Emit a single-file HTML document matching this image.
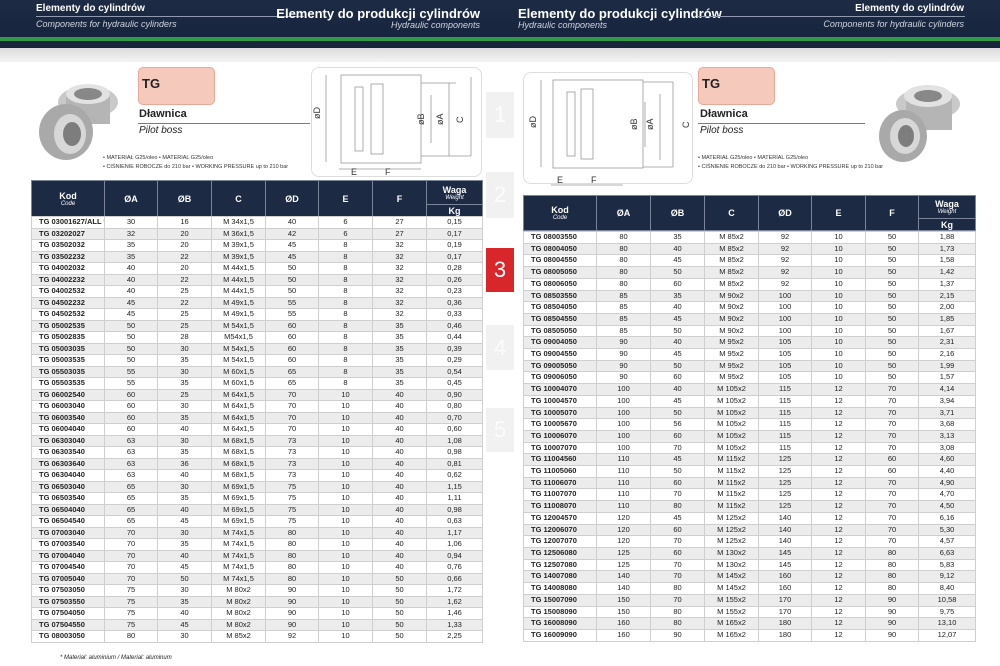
<!DOCTYPE html>
<html><head><meta charset="utf-8">
<style>
*{margin:0;padding:0;box-sizing:border-box}
body{width:1000px;height:666px;overflow:hidden;background:#fff;font-family:"Liberation Sans Narrow","Liberation Sans",sans-serif;position:relative;color:#222}
.hdr{position:absolute;left:0;top:0;width:1000px;height:48px;background:linear-gradient(#1d2b45,#15223a)}
.grn{position:absolute;left:0;top:37px;width:1000px;height:4px;background:#2f9a47}
.grn2{position:absolute;left:0;top:41px;width:1000px;height:6px;background:#18253d}
.band{position:absolute;left:0;top:48px;width:1000px;height:14px;background:linear-gradient(#dcdcdc,#f4f4f4)}
.t{position:absolute;color:#fff;white-space:nowrap}
.b{font-weight:bold}
.i{font-style:italic}
.tab{position:absolute;left:486px;width:28px;background:#f1f1f1;color:#fcfcfc;font-size:22px;text-align:center}
table{position:absolute;border-collapse:collapse;font-size:7.5px;table-layout:fixed}
td,th{border:1px solid #cfcfcf;text-align:center;padding:0;overflow:hidden;white-space:nowrap}
th{background:#1c2a44;color:#fff;border:1px solid #7a8599;font-size:9px}
th small{display:block;font-size:6px;font-style:italic;font-weight:normal}
td:first-child{text-align:left;font-weight:bold;padding-left:7px}
tr.g td{background:#ececec}
.box{position:absolute;border:1px solid #ddd;border-radius:8px;background:#fff}
.pink{position:absolute;background:#f6c9bd;border:1px solid #e8a896;border-radius:5px;font-weight:bold;font-size:13px;padding:8px 0 0 3px}
.line{position:absolute;height:1px;background:#e05050}
.sm{position:absolute;font-size:5.5px;color:#333;line-height:9px;white-space:nowrap}
</style></head><body>
<div class="hdr"></div><div class="grn"></div><div class="grn2"></div><div class="band"></div>
<div class="t b" style="left:36px;top:3px;font-size:10px">Elementy do cylindrów</div>
<div style="position:absolute;left:36px;top:16px;width:268px;height:1px;background:#8f9ab0"></div>
<div class="t i" style="left:36px;top:19px;font-size:9px;color:#cfd5e0">Components for hydraulic cylinders</div>
<div class="t b" style="right:520px;top:6px;font-size:13px">Elementy do produkcji cylindrów</div>
<div class="t i" style="right:520px;top:20px;font-size:9px;color:#cfd5e0">Hydraulic components</div>
<div class="t b" style="left:518px;top:6px;font-size:13px">Elementy do produkcji cylindrów</div>
<div class="t i" style="left:518px;top:20px;font-size:9px;color:#cfd5e0">Hydraulic components</div>
<div style="position:absolute;left:697px;top:16px;width:268px;height:1px;background:#8f9ab0"></div>
<div class="t b" style="right:36px;top:3px;font-size:10px">Elementy do cylindrów</div>
<div class="t i" style="right:36px;top:19px;font-size:9px;color:#cfd5e0">Components for hydraulic cylinders</div>

<div class="tab" style="top:92px;height:46px;line-height:46px">1</div>
<div class="tab" style="top:172px;height:46px;line-height:46px">2</div>
<div class="tab" style="top:248px;height:44px;line-height:44px;background:#d8262b;color:#fff">3</div>
<div class="tab" style="top:325px;height:45px;line-height:45px">4</div>
<div class="tab" style="top:408px;height:44px;line-height:44px">5</div>

<!-- left product -->
<svg style="position:absolute;left:36px;top:74px" width="86" height="90"><ellipse cx="52" cy="28" rx="30" ry="16" fill="#c9c9c9"/><rect x="30" y="20" width="44" height="30" fill="#b5b5b5"/><ellipse cx="52" cy="20" rx="22" ry="10" fill="#e2e2e2"/><ellipse cx="52" cy="20" rx="14" ry="6" fill="#888"/><ellipse cx="30" cy="58" rx="27" ry="28" fill="#a9a9a9"/><ellipse cx="34" cy="60" rx="16" ry="20" fill="#d7d7d7"/><ellipse cx="36" cy="60" rx="9" ry="12" fill="#7d7d7d"/></svg>
<div class="pink" style="left:138px;top:67px;width:77px;height:38px">TG</div>
<div style="position:absolute;left:139px;top:108px;font-size:11px;font-weight:bold">Dławnica</div>
<div class="line" style="left:138px;top:123px;width:172px"></div>
<div style="position:absolute;left:139px;top:125px;font-size:10px;font-style:italic">Pilot boss</div>
<div class="sm" style="left:103px;top:154px">• MATERIAŁ G25/oleo • MATERIAL G25/oleo<br>• CIŚNIENIE ROBOCZE do 210 bar • WORKING PRESSURE up to 210 bar</div>
<div class="box" style="left:311px;top:67px;width:171px;height:110px"></div>
<svg style="position:absolute;left:311px;top:67px" width="171" height="112" font-family="Liberation Sans" font-size="9" fill="#333"><g stroke="#999" fill="none" stroke-width="0.8"><rect x="30" y="8" width="80" height="88"/><rect x="44" y="20" width="8" height="64"/><rect x="60" y="17" width="12" height="70"/><line x1="110" y1="16" x2="145" y2="16"/><line x1="110" y1="89" x2="160" y2="89"/><line x1="138" y1="16" x2="138" y2="89"/><line x1="160" y1="10" x2="160" y2="89"/><line x1="120" y1="28" x2="120" y2="76"/><line x1="15" y1="8" x2="15" y2="95"/><line x1="28" y1="102" x2="110" y2="102"/></g><text x="9" y="52" transform="rotate(-90 9 52)">øD</text><text x="113" y="58" transform="rotate(-90 113 58)">øB</text><text x="132" y="58" transform="rotate(-90 132 58)">øA</text><text x="152" y="56" transform="rotate(-90 152 56)">C</text><text x="40" y="108">E</text><text x="74" y="108">F</text></svg>

<!-- right -->
<div class="box" style="left:523px;top:72px;width:170px;height:112px"></div>
<svg style="position:absolute;left:523px;top:72px" width="171" height="120" font-family="Liberation Sans" font-size="9" fill="#333"><g stroke="#999" fill="none" stroke-width="0.8"><rect x="30" y="8" width="90" height="88"/><rect x="44" y="20" width="8" height="64"/><rect x="58" y="17" width="12" height="70"/><line x1="120" y1="10" x2="150" y2="10"/><line x1="120" y1="95" x2="150" y2="95"/><line x1="150" y1="10" x2="150" y2="95"/><line x1="137" y1="22" x2="137" y2="88"/><line x1="122" y1="30" x2="122" y2="75"/><line x1="18" y1="8" x2="18" y2="95"/><line x1="28" y1="113" x2="100" y2="113"/></g><text x="13" y="56" transform="rotate(-90 13 56)">øD</text><text x="114" y="58" transform="rotate(-90 114 58)">øB</text><text x="130" y="58" transform="rotate(-90 130 58)">øA</text><text x="166" y="56" transform="rotate(-90 166 56)">C</text><text x="34" y="111">E</text><text x="68" y="111">F</text></svg>
<div class="pink" style="left:698px;top:67px;width:77px;height:38px">TG</div>
<div style="position:absolute;left:700px;top:108px;font-size:11px;font-weight:bold">Dławnica</div>
<div class="line" style="left:698px;top:123px;width:167px"></div>
<div style="position:absolute;left:700px;top:125px;font-size:10px;font-style:italic">Pilot boss</div>
<div class="sm" style="left:698px;top:154px">• MATERIAŁ G25/oleo • MATERIAL G25/oleo<br>• CIŚNIENIE ROBOCZE do 210 bar • WORKING PRESSURE up to 210 bar</div>
<svg style="position:absolute;left:878px;top:76px" width="90" height="90"><ellipse cx="50" cy="28" rx="32" ry="16" fill="#c9c9c9"/><rect x="28" y="20" width="46" height="34" fill="#b5b5b5"/><ellipse cx="50" cy="20" rx="24" ry="11" fill="#e2e2e2"/><ellipse cx="50" cy="20" rx="14" ry="6" fill="#888"/><ellipse cx="25" cy="60" rx="24" ry="26" fill="#a9a9a9"/><ellipse cx="27" cy="60" rx="15" ry="18" fill="#d7d7d7"/><ellipse cx="28" cy="60" rx="8" ry="11" fill="#7d7d7d"/></svg>

<table style="left:31px;top:180px;width:451px">
<colgroup><col style="width:73px"><col style="width:53px"><col style="width:54px"><col style="width:54px"><col style="width:53px"><col style="width:54px"><col style="width:54px"><col style="width:56px"></colgroup>
<tr style="height:24px"><th rowspan="2">Kod<small>Code</small></th><th rowspan="2">ØA</th><th rowspan="2">ØB</th><th rowspan="2">C</th><th rowspan="2">ØD</th><th rowspan="2">E</th><th rowspan="2">F</th><th>Waga<small>Weight</small></th></tr>
<tr style="height:12px"><th>Kg</th></tr>
</table>
<table style="left:31px;top:216px;width:451px">
<colgroup><col style="width:73px"><col style="width:53px"><col style="width:54px"><col style="width:54px"><col style="width:53px"><col style="width:54px"><col style="width:54px"><col style="width:56px"></colgroup>
<tbody style="line-height:10.5px">
<tr><td>TG 03001627/ALL *</td><td>30</td><td>16</td><td>M 34x1,5</td><td>40</td><td>6</td><td>27</td><td>0,15</td></tr>
<tr class="g"><td>TG 03202027</td><td>32</td><td>20</td><td>M 36x1,5</td><td>42</td><td>6</td><td>27</td><td>0,17</td></tr>
<tr><td>TG 03502032</td><td>35</td><td>20</td><td>M 39x1,5</td><td>45</td><td>8</td><td>32</td><td>0,19</td></tr>
<tr class="g"><td>TG 03502232</td><td>35</td><td>22</td><td>M 39x1,5</td><td>45</td><td>8</td><td>32</td><td>0,17</td></tr>
<tr><td>TG 04002032</td><td>40</td><td>20</td><td>M 44x1,5</td><td>50</td><td>8</td><td>32</td><td>0,28</td></tr>
<tr class="g"><td>TG 04002232</td><td>40</td><td>22</td><td>M 44x1,5</td><td>50</td><td>8</td><td>32</td><td>0,26</td></tr>
<tr><td>TG 04002532</td><td>40</td><td>25</td><td>M 44x1,5</td><td>50</td><td>8</td><td>32</td><td>0,23</td></tr>
<tr class="g"><td>TG 04502232</td><td>45</td><td>22</td><td>M 49x1,5</td><td>55</td><td>8</td><td>32</td><td>0,36</td></tr>
<tr><td>TG 04502532</td><td>45</td><td>25</td><td>M 49x1,5</td><td>55</td><td>8</td><td>32</td><td>0,33</td></tr>
<tr class="g"><td>TG 05002535</td><td>50</td><td>25</td><td>M 54x1,5</td><td>60</td><td>8</td><td>35</td><td>0,46</td></tr>
<tr><td>TG 05002835</td><td>50</td><td>28</td><td>M54x1,5</td><td>60</td><td>8</td><td>35</td><td>0,44</td></tr>
<tr class="g"><td>TG 05003035</td><td>50</td><td>30</td><td>M 54x1,5</td><td>60</td><td>8</td><td>35</td><td>0,39</td></tr>
<tr><td>TG 05003535</td><td>50</td><td>35</td><td>M 54x1,5</td><td>60</td><td>8</td><td>35</td><td>0,29</td></tr>
<tr class="g"><td>TG 05503035</td><td>55</td><td>30</td><td>M 60x1,5</td><td>65</td><td>8</td><td>35</td><td>0,54</td></tr>
<tr><td>TG 05503535</td><td>55</td><td>35</td><td>M 60x1,5</td><td>65</td><td>8</td><td>35</td><td>0,45</td></tr>
<tr class="g"><td>TG 06002540</td><td>60</td><td>25</td><td>M 64x1,5</td><td>70</td><td>10</td><td>40</td><td>0,90</td></tr>
<tr><td>TG 06003040</td><td>60</td><td>30</td><td>M 64x1,5</td><td>70</td><td>10</td><td>40</td><td>0,80</td></tr>
<tr class="g"><td>TG 06003540</td><td>60</td><td>35</td><td>M 64x1,5</td><td>70</td><td>10</td><td>40</td><td>0,70</td></tr>
<tr><td>TG 06004040</td><td>60</td><td>40</td><td>M 64x1,5</td><td>70</td><td>10</td><td>40</td><td>0,60</td></tr>
<tr class="g"><td>TG 06303040</td><td>63</td><td>30</td><td>M 68x1,5</td><td>73</td><td>10</td><td>40</td><td>1,08</td></tr>
<tr><td>TG 06303540</td><td>63</td><td>35</td><td>M 68x1,5</td><td>73</td><td>10</td><td>40</td><td>0,98</td></tr>
<tr class="g"><td>TG 06303640</td><td>63</td><td>36</td><td>M 68x1,5</td><td>73</td><td>10</td><td>40</td><td>0,81</td></tr>
<tr><td>TG 06304040</td><td>63</td><td>40</td><td>M 68x1,5</td><td>73</td><td>10</td><td>40</td><td>0,62</td></tr>
<tr class="g"><td>TG 06503040</td><td>65</td><td>30</td><td>M 69x1,5</td><td>75</td><td>10</td><td>40</td><td>1,15</td></tr>
<tr><td>TG 06503540</td><td>65</td><td>35</td><td>M 69x1,5</td><td>75</td><td>10</td><td>40</td><td>1,11</td></tr>
<tr class="g"><td>TG 06504040</td><td>65</td><td>40</td><td>M 69x1,5</td><td>75</td><td>10</td><td>40</td><td>0,98</td></tr>
<tr><td>TG 06504540</td><td>65</td><td>45</td><td>M 69x1,5</td><td>75</td><td>10</td><td>40</td><td>0,63</td></tr>
<tr class="g"><td>TG 07003040</td><td>70</td><td>30</td><td>M 74x1,5</td><td>80</td><td>10</td><td>40</td><td>1,17</td></tr>
<tr><td>TG 07003540</td><td>70</td><td>35</td><td>M 74x1,5</td><td>80</td><td>10</td><td>40</td><td>1,06</td></tr>
<tr class="g"><td>TG 07004040</td><td>70</td><td>40</td><td>M 74x1,5</td><td>80</td><td>10</td><td>40</td><td>0,94</td></tr>
<tr><td>TG 07004540</td><td>70</td><td>45</td><td>M 74x1,5</td><td>80</td><td>10</td><td>40</td><td>0,76</td></tr>
<tr class="g"><td>TG 07005040</td><td>70</td><td>50</td><td>M 74x1,5</td><td>80</td><td>10</td><td>50</td><td>0,66</td></tr>
<tr><td>TG 07503050</td><td>75</td><td>30</td><td>M 80x2</td><td>90</td><td>10</td><td>50</td><td>1,72</td></tr>
<tr class="g"><td>TG 07503550</td><td>75</td><td>35</td><td>M 80x2</td><td>90</td><td>10</td><td>50</td><td>1,62</td></tr>
<tr><td>TG 07504050</td><td>75</td><td>40</td><td>M 80x2</td><td>90</td><td>10</td><td>50</td><td>1,46</td></tr>
<tr class="g"><td>TG 07504550</td><td>75</td><td>45</td><td>M 80x2</td><td>90</td><td>10</td><td>50</td><td>1,33</td></tr>
<tr><td>TG 08003050</td><td>80</td><td>30</td><td>M 85x2</td><td>92</td><td>10</td><td>50</td><td>2,25</td></tr>
</tbody></table>
<div style="position:absolute;left:60px;top:655px;font-size:6px;font-style:italic">* Materiał: aluminium / Material: aluminum</div>

<table style="left:523px;top:195px;width:452px">
<colgroup><col style="width:73px"><col style="width:54px"><col style="width:54px"><col style="width:54px"><col style="width:53px"><col style="width:54px"><col style="width:53px"><col style="width:57px"></colgroup>
<tr style="height:23px"><th rowspan="2">Kod<small>Code</small></th><th rowspan="2">ØA</th><th rowspan="2">ØB</th><th rowspan="2">C</th><th rowspan="2">ØD</th><th rowspan="2">E</th><th rowspan="2">F</th><th>Waga<small>Weight</small></th></tr>
<tr style="height:12px"><th>Kg</th></tr>
</table>
<table style="left:523px;top:231px;width:452px">
<colgroup><col style="width:73px"><col style="width:54px"><col style="width:54px"><col style="width:54px"><col style="width:53px"><col style="width:54px"><col style="width:53px"><col style="width:57px"></colgroup>
<tbody style="line-height:10.7px">
<tr><td>TG 08003550</td><td>80</td><td>35</td><td>M 85x2</td><td>92</td><td>10</td><td>50</td><td>1,88</td></tr>
<tr class="g"><td>TG 08004050</td><td>80</td><td>40</td><td>M 85x2</td><td>92</td><td>10</td><td>50</td><td>1,73</td></tr>
<tr><td>TG 08004550</td><td>80</td><td>45</td><td>M 85x2</td><td>92</td><td>10</td><td>50</td><td>1,58</td></tr>
<tr class="g"><td>TG 08005050</td><td>80</td><td>50</td><td>M 85x2</td><td>92</td><td>10</td><td>50</td><td>1,42</td></tr>
<tr><td>TG 08006050</td><td>80</td><td>60</td><td>M 85x2</td><td>92</td><td>10</td><td>50</td><td>1,37</td></tr>
<tr class="g"><td>TG 08503550</td><td>85</td><td>35</td><td>M 90x2</td><td>100</td><td>10</td><td>50</td><td>2,15</td></tr>
<tr><td>TG 08504050</td><td>85</td><td>40</td><td>M 90x2</td><td>100</td><td>10</td><td>50</td><td>2,00</td></tr>
<tr class="g"><td>TG 08504550</td><td>85</td><td>45</td><td>M 90x2</td><td>100</td><td>10</td><td>50</td><td>1,85</td></tr>
<tr><td>TG 08505050</td><td>85</td><td>50</td><td>M 90x2</td><td>100</td><td>10</td><td>50</td><td>1,67</td></tr>
<tr class="g"><td>TG 09004050</td><td>90</td><td>40</td><td>M 95x2</td><td>105</td><td>10</td><td>50</td><td>2,31</td></tr>
<tr><td>TG 09004550</td><td>90</td><td>45</td><td>M 95x2</td><td>105</td><td>10</td><td>50</td><td>2,16</td></tr>
<tr class="g"><td>TG 09005050</td><td>90</td><td>50</td><td>M 95x2</td><td>105</td><td>10</td><td>50</td><td>1,99</td></tr>
<tr><td>TG 09006050</td><td>90</td><td>60</td><td>M 95x2</td><td>105</td><td>10</td><td>50</td><td>1,57</td></tr>
<tr class="g"><td>TG 10004070</td><td>100</td><td>40</td><td>M 105x2</td><td>115</td><td>12</td><td>70</td><td>4,14</td></tr>
<tr><td>TG 10004570</td><td>100</td><td>45</td><td>M 105x2</td><td>115</td><td>12</td><td>70</td><td>3,94</td></tr>
<tr class="g"><td>TG 10005070</td><td>100</td><td>50</td><td>M 105x2</td><td>115</td><td>12</td><td>70</td><td>3,71</td></tr>
<tr><td>TG 10005670</td><td>100</td><td>56</td><td>M 105x2</td><td>115</td><td>12</td><td>70</td><td>3,68</td></tr>
<tr class="g"><td>TG 10006070</td><td>100</td><td>60</td><td>M 105x2</td><td>115</td><td>12</td><td>70</td><td>3,13</td></tr>
<tr><td>TG 10007070</td><td>100</td><td>70</td><td>M 105x2</td><td>115</td><td>12</td><td>70</td><td>3,08</td></tr>
<tr class="g"><td>TG 11004560</td><td>110</td><td>45</td><td>M 115x2</td><td>125</td><td>12</td><td>60</td><td>4,60</td></tr>
<tr><td>TG 11005060</td><td>110</td><td>50</td><td>M 115x2</td><td>125</td><td>12</td><td>60</td><td>4,40</td></tr>
<tr class="g"><td>TG 11006070</td><td>110</td><td>60</td><td>M 115x2</td><td>125</td><td>12</td><td>70</td><td>4,90</td></tr>
<tr><td>TG 11007070</td><td>110</td><td>70</td><td>M 115x2</td><td>125</td><td>12</td><td>70</td><td>4,70</td></tr>
<tr class="g"><td>TG 11008070</td><td>110</td><td>80</td><td>M 115x2</td><td>125</td><td>12</td><td>70</td><td>4,50</td></tr>
<tr><td>TG 12004570</td><td>120</td><td>45</td><td>M 125x2</td><td>140</td><td>12</td><td>70</td><td>6,16</td></tr>
<tr class="g"><td>TG 12006070</td><td>120</td><td>60</td><td>M 125x2</td><td>140</td><td>12</td><td>70</td><td>5,30</td></tr>
<tr><td>TG 12007070</td><td>120</td><td>70</td><td>M 125x2</td><td>140</td><td>12</td><td>70</td><td>4,57</td></tr>
<tr class="g"><td>TG 12506080</td><td>125</td><td>60</td><td>M 130x2</td><td>145</td><td>12</td><td>80</td><td>6,63</td></tr>
<tr><td>TG 12507080</td><td>125</td><td>70</td><td>M 130x2</td><td>145</td><td>12</td><td>80</td><td>5,83</td></tr>
<tr class="g"><td>TG 14007080</td><td>140</td><td>70</td><td>M 145x2</td><td>160</td><td>12</td><td>80</td><td>9,12</td></tr>
<tr><td>TG 14008080</td><td>140</td><td>80</td><td>M 145x2</td><td>160</td><td>12</td><td>80</td><td>8,40</td></tr>
<tr class="g"><td>TG 15007090</td><td>150</td><td>70</td><td>M 155x2</td><td>170</td><td>12</td><td>90</td><td>10,58</td></tr>
<tr><td>TG 15008090</td><td>150</td><td>80</td><td>M 155x2</td><td>170</td><td>12</td><td>90</td><td>9,75</td></tr>
<tr class="g"><td>TG 16008090</td><td>160</td><td>80</td><td>M 165x2</td><td>180</td><td>12</td><td>90</td><td>13,10</td></tr>
<tr><td>TG 16009090</td><td>160</td><td>90</td><td>M 165x2</td><td>180</td><td>12</td><td>90</td><td>12,07</td></tr>
</tbody></table>
</body></html>
